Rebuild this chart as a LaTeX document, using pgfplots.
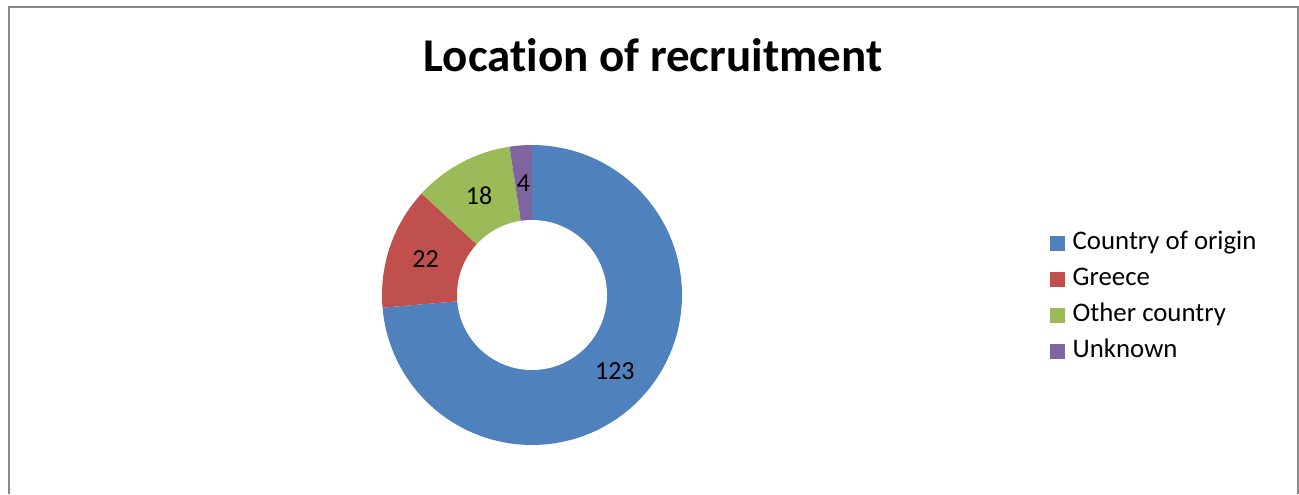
\documentclass[border=0pt]{standalone}
\usepackage{pgfplots}
\pgfplotsset{compat=1.18}
\usepackage{pgfplotstable}
\usepackage{fontspec}
\setmainfont{Carlito}[Ligatures=NoCommon]
\definecolor{cblue}{HTML}{4F81BD}
\definecolor{cred}{HTML}{C0504D}
\definecolor{cgreen}{HTML}{9BBB59}
\definecolor{cpurple}{HTML}{8064A2}
\definecolor{bordergray}{RGB}{136,136,136}
\pgfplotstableread[col sep=comma]{
label,value
Country of origin,123
Greece,22
Other country,18
Unknown,4
}\datatable
\pgfplotstablegetelem{0}{value}\of\datatable \let\vA\pgfplotsretval
\pgfplotstablegetelem{1}{value}\of\datatable \let\vB\pgfplotsretval
\pgfplotstablegetelem{2}{value}\of\datatable \let\vC\pgfplotsretval
\pgfplotstablegetelem{3}{value}\of\datatable \let\vD\pgfplotsretval
\pgfmathsetmacro\total{\vA+\vB+\vC+\vD}
\pgfmathsetmacro\aO{90}
\pgfmathsetmacro\aA{90-\vA/\total*360}
\pgfmathsetmacro\aB{\aA-\vB/\total*360}
\pgfmathsetmacro\aC{\aB-\vC/\total*360}
\pgfmathsetmacro\aD{\aC-\vD/\total*360}
\pgfmathsetmacro\mA{(\aO+\aA)/2}
\pgfmathsetmacro\mB{(\aA+\aB)/2}
\pgfmathsetmacro\mC{(\aB+\aC)/2}
\pgfmathsetmacro\mD{(\aC+\aD)/2}
\newcommand\lblfont{\fontsize{13}{15.5}\selectfont}
\newcommand\legfont{\fontsize{13.4}{16}\selectfont}
\begin{document}
\begin{tikzpicture}
\begin{axis}[
  width=649.5pt, height=247pt, scale only axis,
  xmin=0, xmax=1299, ymin=0, ymax=494,
  hide axis, clip=false,
  legend image code/.code={\fill[#1] (0pt,-3.75pt) rectangle (7.5pt,3.75pt);},
  legend style={draw=none, fill=none, inner sep=0pt, outer sep=0pt,
    at={(0.8083,0.5304)}, anchor=north west, font=\legfont,
    row sep=5.85pt, column sep=3.85pt,
    nodes={inner sep=0pt, text height=9pt, text depth=3pt}},
  legend cell align=left,
]
\draw[line width=1pt, color=bordergray] (axis cs:9,0) -- (axis cs:9,487) -- (axis cs:1298,487) -- (axis cs:1298,0);
\addplot[fill=cblue, draw=none, domain=\aA:\aO, samples=150] ({532+150*cos(x)},{199+150*sin(x)}) -- (axis cs:532,199) -- cycle;
\addlegendentry{Country of origin}
\addplot[fill=cred, draw=none, domain=\aB:\aA, samples=40] ({532+150*cos(x)},{199+150*sin(x)}) -- (axis cs:532,199) -- cycle;
\addlegendentry{Greece}
\addplot[fill=cgreen, draw=none, domain=\aC:\aB, samples=40] ({532+150*cos(x)},{199+150*sin(x)}) -- (axis cs:532,199) -- cycle;
\addlegendentry{Other country}
\addplot[fill=cpurple, draw=none, domain=\aD:\aC, samples=20] ({532+150*cos(x)},{199+150*sin(x)}) -- (axis cs:532,199) -- cycle;
\addlegendentry{Unknown}
\fill[white] (axis cs:532,199) circle[radius=37.5pt];
\node[font=\lblfont] at (axis cs:{532+112.5*cos(\mA)},{199+112.5*sin(\mA)}) {\vA};
\node[font=\lblfont] at (axis cs:{532+112.5*cos(\mB)},{199+112.5*sin(\mB)}) {\vB};
\node[font=\lblfont] at (axis cs:{532+112.5*cos(\mC)},{199+112.5*sin(\mC)}) {\vC};
\node[font=\lblfont] at (axis cs:{532+112.5*cos(\mD)},{199+112.5*sin(\mD)}) {\vD};
\node[font=\bfseries\fontsize{23.5}{28}\selectfont, anchor=base] at (axis cs:653,422.5) {Location of recruitment};
\end{axis}
\pgfresetboundingbox
\useasboundingbox (0,0) rectangle (649.5pt,247pt);
\end{tikzpicture}
\end{document}
